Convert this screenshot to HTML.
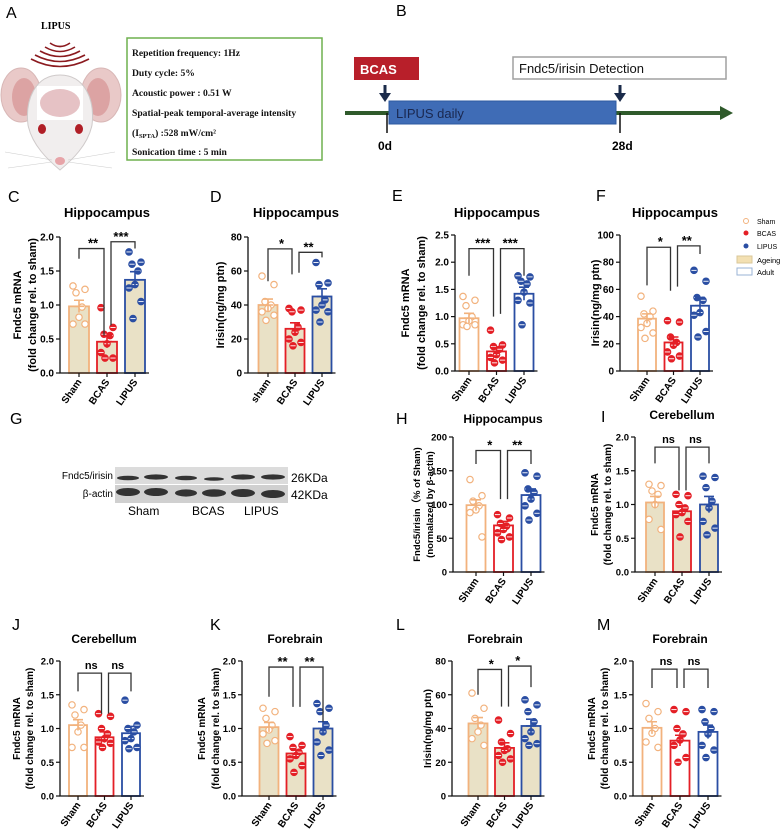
<!DOCTYPE html>
<html><head><meta charset="utf-8"><style>
html,body{margin:0;padding:0;background:#fff;}
svg{display:block;font-family:"Liberation Sans",sans-serif;}
.ser{font-family:"Liberation Serif",serif;font-weight:bold;}
</style></head><body>
<svg id="fig" width="784" height="836" viewBox="0 0 784 836" xmlns="http://www.w3.org/2000/svg">
<g>
<text x="6" y="18" font-size="16">A</text>
<text x="41" y="29" class="ser" font-size="10">LIPUS</text>
<g fill="none" stroke="#8b1a1f" stroke-width="1.6">
<path d="M50 43 Q60 50 70 43"/><path d="M45 47 Q60 56 75 47"/><path d="M40 51 Q60 62 80 51"/><path d="M35 55 Q60 68 85 55"/><path d="M31 59 Q60 74 89 59"/>
</g>
<g>
<ellipse cx="21" cy="95" rx="20" ry="27" fill="#e9c9c8" stroke="#d8b7b6"/>
<ellipse cx="24" cy="97" rx="12" ry="19" fill="#dca3a3"/>
<ellipse cx="101" cy="95" rx="20" ry="27" fill="#e9c9c8" stroke="#d8b7b6"/>
<ellipse cx="98" cy="97" rx="12" ry="19" fill="#dca3a3"/>
<path d="M60 75 C85 75 95 100 92 125 C88 145 72 160 60 170 C48 160 32 145 28 125 C25 100 35 75 60 75Z" fill="#f1eeee" stroke="#cfcaca"/>
<rect x="37" y="86" width="46" height="34" fill="#fff"/>
<ellipse cx="60" cy="103" rx="20" ry="14" fill="#e6c2c5"/>
<ellipse cx="42" cy="129" rx="4" ry="5" fill="#b01e26"/>
<ellipse cx="79" cy="129" rx="4" ry="5" fill="#b01e26"/>
<ellipse cx="60" cy="161" rx="5" ry="4" fill="#e7a4a8"/>
<g stroke="#ccc" stroke-width="0.6"><path d="M52 160 L5 152 M52 162 L8 168 M68 160 L115 152 M68 162 L112 168"/></g>
</g>
<rect x="127" y="38" width="195" height="122" fill="#fff" stroke="#6fb14f" stroke-width="1.5"/>
<g class="ser" font-size="9.6" fill="#111">
<text x="132" y="56">Repetition frequency: 1Hz</text>
<text x="132" y="76">Duty cycle: 5%</text>
<text x="132" y="96">Acoustic power :  0.51 W</text>
<text x="132" y="116">Spatial-peak temporal-average intensity</text>
<text x="132" y="136">(I<tspan font-size="6.5" dy="2">SPTA</tspan><tspan dy="-2">) :528 mW/cm²</tspan></text>
<text x="132" y="155">Sonication time :  5 min</text>
</g>
</g>
<g>
<text x="396" y="16" font-size="16">B</text>
<line x1="345" y1="113" x2="722" y2="113" stroke="#2f5a2b" stroke-width="4"/>
<polygon points="720,106 733,113 720,120" fill="#2f5a2b"/>
<rect x="354" y="57" width="65" height="23" fill="#b81f2a"/>
<text x="360" y="74" font-size="13" font-weight="bold" fill="#fff">BCAS</text>
<rect x="513" y="57" width="213" height="22" fill="#fff" stroke="#a0a0a0" stroke-width="1.5"/>
<text x="519" y="73" font-size="13" fill="#111">Fndc5/irisin Detection</text>
<rect x="389" y="101" width="227" height="23" fill="#3f6cb6" stroke="#2c5aa0"/>
<text x="396" y="118" font-size="13" fill="#1a2850">LIPUS daily</text>
<g fill="#1b2b4a"><rect x="383.5" y="85" width="3" height="9"/><polygon points="379,93 391,93 385,102"/><rect x="618.5" y="85" width="3" height="9"/><polygon points="614,93 626,93 620,102"/></g>
<line x1="387" y1="113" x2="387" y2="133" stroke="#111" stroke-width="1.5"/>
<line x1="620" y1="113" x2="620" y2="133" stroke="#111" stroke-width="1.5"/>
<text x="378" y="150" font-size="12" font-weight="bold">0d</text>
<text x="612" y="150" font-size="12" font-weight="bold">28d</text>
</g>
<g>
<text x="10" y="424" font-size="16">G</text>
<rect x="115" y="467" width="173" height="17" fill="#dcdcdc"/>
<rect x="115" y="485" width="173" height="18" fill="#d0d0d0"/>
<g fill="#333">
<ellipse cx="128" cy="478" rx="11" ry="2.3"/><ellipse cx="156" cy="477" rx="12" ry="2.6"/><ellipse cx="186" cy="478" rx="11" ry="2.3"/><ellipse cx="214" cy="479" rx="10" ry="1.8"/><ellipse cx="243" cy="477" rx="12" ry="2.6"/><ellipse cx="273" cy="477" rx="12" ry="2.6"/>
<ellipse cx="128" cy="492" rx="12" ry="4"/><ellipse cx="156" cy="492" rx="12" ry="4"/><ellipse cx="186" cy="493" rx="11" ry="3.6"/><ellipse cx="214" cy="493" rx="12" ry="3.8"/><ellipse cx="243" cy="493" rx="12" ry="4"/><ellipse cx="273" cy="494" rx="12" ry="4"/>
</g>
<text x="113" y="479" font-size="10" text-anchor="end">Fndc5/irisin</text>
<text x="113" y="497" font-size="10" text-anchor="end">β-actin</text>
<text x="291" y="482" font-size="12">26KDa</text>
<text x="291" y="499" font-size="12">42KDa</text>
<text x="128" y="515" font-size="12">Sham</text>
<text x="192" y="515" font-size="12">BCAS</text>
<text x="244" y="515" font-size="12">LIPUS</text>
</g>
<g>
<circle cx="746" cy="221" r="2.5" fill="#fff" stroke="#f2b27d"/><text x="757" y="224" font-size="7">Sham</text>
<circle cx="746" cy="233" r="2.5" fill="#e41f26"/><text x="757" y="236" font-size="7">BCAS</text>
<circle cx="746" cy="246" r="2.5" fill="#2a4ea3"/><text x="757" y="249" font-size="7">LIPUS</text>
<rect x="737" y="256" width="15" height="7" fill="#f3e0b2" stroke="#d9c79a"/><text x="757" y="263" font-size="7.5">Ageing</text>
<rect x="737" y="268" width="15" height="7" fill="#fff" stroke="#9ab3d6"/><text x="757" y="275" font-size="7.5">Adult</text>
</g>
</svg>
<script>
const categories=["Sham","BCAS","LIPUS"];
const categoriesD=["sham","BCAS","LIPUS"];
// C
const cMeans=[0.98,0.46,1.37]; const cErr=[0.09,0.09,0.12];
const cSham=[1.28,1.23,1.18,0.97,0.82,0.72,0.72]; const cBcas=[0.96,0.67,0.57,0.55,0.43,0.30,0.22,0.22]; const cLipus=[1.78,1.63,1.60,1.50,1.30,1.25,1.05,0.80];
const cTicks=[0,0.5,1,1.5,2]; const cTickLabels=["0.0","0.5","1.0","1.5","2.0"];
const cBrackets=[[1.83,1.68,0.55],[1.93,0.70,1.83]]; const cSig=["**","***"];
// D
const dMeans=[40,26,45]; const dErr=[3.5,3.5,4.5];
const dSham=[57,52,42,40,38,36,34,31]; const dBcas=[38,37,36,27,24,20,18,16]; const dLipus=[65,53,52,43,40,37,36,30];
const dTicks=[0,20,40,60,80]; const dTickLabels=["0","20","40","60","80"];
const dBrackets=[[73,54,58],[71,59,68]]; const dSig=["*","**"];
// E
const eMeans=[0.97,0.36,1.42]; const eErr=[0.09,0.07,0.12];
const eSham=[1.37,1.3,1.2,1.0,0.92,0.85,0.85,0.82]; const eBcas=[0.75,0.48,0.45,0.40,0.3,0.25,0.2,0.15]; const eLipus=[1.75,1.73,1.65,1.6,1.45,1.3,1.25,0.85];
const eTicks=[0,0.5,1,1.5,2,2.5]; const eTickLabels=["0.0","0.5","1.0","1.5","2.0","2.5"];
const eBrackets=[[2.25,1.75,1.0],[2.25,1.05,1.75]]; const eSig=["***","***"];
// F
const fMeans=[38.5,21,48]; const fErr=[3.5,4,6];
const fSham=[55,44,42,40,35,32,28,24]; const fBcas=[37,36,25,21,19,14,11,9]; const fLipus=[74,66,54,52,43,41,29,25];
const fTicks=[0,20,40,60,80,100]; const fTickLabels=["0","20","40","60","80","100"];
const fBrackets=[[91,63,59],[92,62,86]]; const fSig=["*","**"];
// H
const hMeans=[99,69,114]; const hErr=[8,6,9];
const hSham=[137,113,105,98,92,88,52]; const hBcas=[85,80,72,68,63,58,52,48]; const hLipus=[147,142,123,118,108,98,87,77];
const hTicks=[0,50,100,150,200]; const hTickLabels=["0","50","100","150","200"];
const hBrackets=[[180,160,108],[180,108,160]]; const hSig=["*","**"];
// I
const iMeans=[1.03,0.9,1.0]; const iErr=[0.09,0.07,0.12];
const iSham=[1.3,1.28,1.2,1.15,1.0,0.78,0.63]; const iBcas=[1.15,1.13,1.0,0.95,0.88,0.85,0.75,0.52]; const iLipus=[1.42,1.4,1.25,1.05,0.95,0.75,0.65,0.55];
const iTicks=[0,0.5,1,1.5,2]; const iTickLabels=["0.0","0.5","1.0","1.5","2.0"];
const iBrackets=[[1.85,1.61,1.21],[1.85,1.21,1.61]]; const iSig=["ns","ns"];
// J
const jMeans=[1.05,0.87,0.93]; const jErr=[0.08,0.08,0.1];
const jSham=[1.35,1.28,1.2,1.05,0.95,0.72,0.72]; const jBcas=[1.22,1.18,1.0,0.92,0.85,0.8,0.78,0.72]; const jLipus=[1.42,1.05,1.0,0.95,0.85,0.82,0.72,0.7];
const jBrackets=[[1.82,1.55,1.22],[1.82,1.22,1.55]]; const jSig=["ns","ns"];
// K
const kMeans=[1.02,0.63,1.0]; const kErr=[0.07,0.05,0.1];
const kSham=[1.3,1.25,1.15,1.05,0.98,0.92,0.82,0.78]; const kBcas=[0.88,0.75,0.72,0.65,0.6,0.55,0.45,0.35]; const kLipus=[1.37,1.3,1.25,1.05,0.95,0.8,0.68,0.6];
const kBrackets=[[1.91,1.47,1.32],[1.91,1.32,1.1]]; const kSig=["**","**"];
// L
const lMeans=[43,28.5,41.5]; const lErr=[3.5,3,4];
const lSham=[61,52,46,42,38,34,30]; const lBcas=[45,37,32,28,27,24,22,20]; const lLipus=[57,54,50,44,38,34,31,30];
const lTicks=[0,20,40,60,80]; const lTickLabels=["0","20","40","60","80"];
const lBrackets=[[75,60,53],[77,53,64.5]]; const lSig=["*","*"];
// M
const mMeans=[1.01,0.82,0.95]; const mErr=[0.09,0.08,0.1];
const mSham=[1.37,1.25,1.15,1.0,0.93,0.8,0.72]; const mBcas=[1.28,1.25,1.0,0.92,0.83,0.75,0.57,0.5]; const mLipus=[1.28,1.25,1.1,1.0,0.92,0.75,0.68,0.57];
const mBrackets=[[1.88,1.6,1.6],[1.88,1.6,1.6]]; const mSig=["ns","ns"];

const NS="http://www.w3.org/2000/svg";
const svg=document.getElementById('fig');
const COLS=["#f2b27d","#e41f26","#2a4ea3"];
const JIT=[-6,6,-3,3,0,-6,6,-2];
function mk(tag,attrs,parent){const e=document.createElementNS(NS,tag);for(const k in attrs)e.setAttribute(k,attrs[k]);(parent||svg).appendChild(e);return e;}
function panel(name,L,means,err,pts,ticks,tickLabels,brackets,sig,cats){
  const g=mk('g',{});
  
  
  const maxV=ticks[ticks.length-1];
  const y=v=>L.y0-(v/maxV)*(L.y0-L.yt);
  const x=i=>L.c0+i*L.dx;
  const t=mk('text',{x:L.letterX,y:L.letterY,'font-size':16},g);t.textContent=L.letter;
  
  
  const ti=mk('text',{x:L.titleX,y:L.titleY,'font-size':L.titleSize,'font-weight':'bold','text-anchor':'middle'},g);ti.textContent=L.title;
  
  
  L.ylab.forEach((s,k)=>{const yl=mk('text',{x:0,y:0,'font-size':L.ylSize,'font-weight':'bold','text-anchor':'middle',transform:`translate(${L.ylx[k]},${(L.y0+L.yt)/2}) rotate(-90)`},g);yl.textContent=s;
    
    });
  for(let i=0;i<3;i++){
    const r=mk('rect',{x:x(i)-L.bw/2,y:y(means[i]),width:L.bw,height:L.y0-y(means[i]),fill:L.fill,stroke:COLS[i],'stroke-width':1.8},g);
    
    
  }
  for(let i=0;i<3;i++){
    pts[i].forEach((v,k)=>{
      const cx=x(i)+JIT[k%JIT.length];
      const c=mk('circle',{cx:cx,cy:y(v),r:3.2,fill:i===0?'#fff':COLS[i],stroke:COLS[i],'stroke-width':1.2},g);
      
      
      if(i>0) mk('line',{x1:cx-2.6,x2:cx+2.6,y1:y(v),y2:y(v),stroke:'#fff','stroke-width':0.9},g);
    });
    const e=mk('path',{d:`M${x(i)} ${y(means[i]-err[i])}V${y(means[i]+err[i])}M${x(i)-5} ${y(means[i]+err[i])}H${x(i)+5}M${x(i)-5} ${y(means[i])}H${x(i)+5}`,stroke:COLS[i],'stroke-width':1.6,fill:'none'},g);
    
    
  }
  mk('path',{d:`M${L.ax} ${L.yt}V${L.y0}H${x(2)+L.bw/2+4}`,stroke:'#111','stroke-width':1.3,fill:'none'},g);
  ticks.forEach((v,k)=>{mk('line',{x1:L.ax-4,x2:L.ax,y1:y(v),y2:y(v),stroke:'#111','stroke-width':1.2},g);
    const tl=mk('text',{x:L.ax-6,y:y(v)+3.5,'font-size':L.tickSize,'font-weight':'bold','text-anchor':'end'},g);tl.textContent=tickLabels[k];
    
    });
  for(let i=0;i<3;i++){mk('line',{x1:x(i),x2:x(i),y1:L.y0,y2:L.y0+4,stroke:'#111','stroke-width':1.2},g);
    const xl=mk('text',{x:0,y:0,'font-size':L.xlSize,'font-weight':'bold','text-anchor':'end',transform:`translate(${x(i)+3},${L.y0+9}) rotate(-55)`},g);xl.textContent=cats[i];
    
    }
  brackets.forEach((b,k)=>{const a=x(k);
    const p=mk('path',{d:`M${a+(k===1?4:0)} ${y(b[1])}V${y(b[0])}H${x(k+1)-(k===0?3:0)}V${y(b[2])}`,stroke:'#333','stroke-width':1.3,fill:'none'},g);
    
    
    const s=mk('text',{x:(a+x(k+1))/2,y:y(b[0])-(sig[k]==='ns'?4:1),'font-size':sig[k]==='ns'?11:13,'font-weight':'bold','text-anchor':'middle'},g);s.textContent=sig[k];
    
    });
}
const BEIGE="#e9e1c6",WHITE="#ffffff";
const yl2=["Fndc5 mRNA","(fold change rel. to sham)"];
const r1={y0:373,yt:237,titleY:217,titleSize:13,ylSize:11,tickSize:10,xlSize:10};
const r1b={y0:371,yt:235,titleY:217,titleSize:13,ylSize:11,tickSize:10,xlSize:10};
const r3={y0:572,yt:437,titleY:423,titleSize:12,ylSize:10,tickSize:9.5,xlSize:10};
const r4={y0:796,yt:661,titleY:643,titleSize:12,ylSize:10,tickSize:9.5,xlSize:10};
const tk2=[0,0.5,1,1.5,2],tk2L=["0.0","0.5","1.0","1.5","2.0"];
panel('panel-c',Object.assign({},r1,{ax:60,c0:79,dx:28,bw:20,fill:BEIGE,letter:'C',letterX:8,letterY:202,title:'Hippocampus',titleX:107,ylab:yl2,ylx:[21,36]}),cMeans,cErr,[cSham,cBcas,cLipus],cTicks,cTickLabels,cBrackets,cSig,categories);
panel('panel-d',Object.assign({},r1,{ax:248,c0:268,dx:27,bw:19,fill:BEIGE,letter:'D',letterX:210,letterY:202,title:'Hippocampus',titleX:296,ylab:["Irisin(ng/mg ptn)"],ylx:[224]}),dMeans,dErr,[dSham,dBcas,dLipus],dTicks,dTickLabels,dBrackets,dSig,categoriesD);
panel('panel-e',Object.assign({},r1b,{ax:455,c0:469,dx:27.5,bw:19,fill:WHITE,letter:'E',letterX:392,letterY:201,title:'Hippocampus',titleX:497,ylab:yl2,ylx:[409,425]}),eMeans,eErr,[eSham,eBcas,eLipus],eTicks,eTickLabels,eBrackets,eSig,categories);
panel('panel-f',Object.assign({},r1b,{ax:620,c0:647,dx:26.5,bw:18,fill:WHITE,letter:'F',letterX:596,letterY:201,title:'Hippocampus',titleX:675,ylab:["Irisin(ng/mg ptn)"],ylx:[599]}),fMeans,fErr,[fSham,fBcas,fLipus],fTicks,fTickLabels,fBrackets,fSig,categories);
panel('panel-h',Object.assign({},r3,{ax:453,c0:476,dx:27.5,bw:19,fill:WHITE,letter:'H',letterX:396,letterY:424,title:'Hippocampus',titleX:503,ylab:["Fndc5/irisin（% of Sham)","(normalazed by β-actin)"],ylx:[420,433],ylSize:9.5}),hMeans,hErr,[hSham,hBcas,hLipus],hTicks,hTickLabels,hBrackets,hSig,categories);
panel('panel-i',Object.assign({},r3,{ax:635,c0:655,dx:27,bw:18,fill:BEIGE,letter:'I',letterX:601,letterY:422,title:'Cerebellum',titleX:682,titleY:419,ylab:yl2,ylx:[598,611]}),iMeans,iErr,[iSham,iBcas,iLipus],iTicks,iTickLabels,iBrackets,iSig,categories);
panel('panel-j',Object.assign({},r4,{ax:60,c0:78,dx:26.5,bw:18,fill:WHITE,letter:'J',letterX:12,letterY:630,title:'Cerebellum',titleX:104,ylab:yl2,ylx:[20,33]}),jMeans,jErr,[jSham,jBcas,jLipus],tk2,tk2L,jBrackets,jSig,categories);
panel('panel-k',Object.assign({},r4,{ax:242,c0:269,dx:27,bw:19,fill:BEIGE,letter:'K',letterX:210,letterY:630,title:'Forebrain',titleX:295,ylab:yl2,ylx:[205,219]}),kMeans,kErr,[kSham,kBcas,kLipus],tk2,tk2L,kBrackets,kSig,categories);
panel('panel-l',Object.assign({},r4,{ax:452,c0:478,dx:26.5,bw:19,fill:BEIGE,letter:'L',letterX:396,letterY:630,title:'Forebrain',titleX:495,ylab:["Irisin(ng/mg ptn)"],ylx:[431]}),lMeans,lErr,[lSham,lBcas,lLipus],lTicks,lTickLabels,lBrackets,lSig,categories);
panel('panel-m',Object.assign({},r4,{ax:633,c0:652,dx:28,bw:19,fill:WHITE,letter:'M',letterX:597,letterY:630,title:'Forebrain',titleX:680,ylab:yl2,ylx:[595,608]}),mMeans,mErr,[mSham,mBcas,mLipus],tk2,tk2L,mBrackets,mSig,categories);
</script>
</body></html>
